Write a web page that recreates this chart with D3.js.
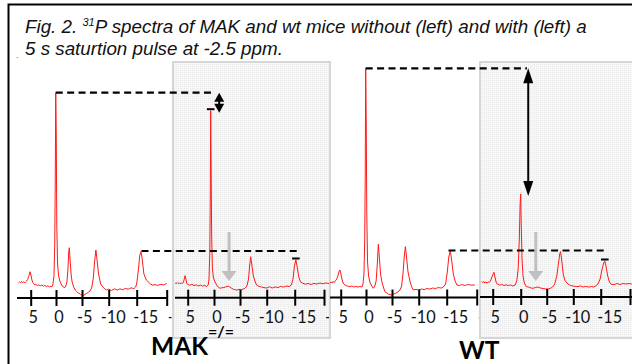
<!DOCTYPE html>
<html>
<head>
<meta charset="utf-8">
<script src="https://cdn.jsdelivr.net/npm/d3@7"></script>
<style>
  html, body { margin: 0; padding: 0; background: #fff; }
  svg { display: block; }
</style>
</head>
<body>
<div id="chart"></div>
<script>
// chemical shift ticks (ppm)
const ppmTicks = [5, 0, -5, -10, -15, -20];

// 31P spectra: [ppm, signal (a.u.)]
const makRest = [
  [7.4, 1], [7.2, 2], [7.0, 1.2], [6.8, 2.6], [6.6, 1.4], [6.4, 2.2], [6.2, 1], [6.0, 2.2], [5.8, 3], [5.6, 4.5],
  [5.4, 7.5], [5.2, 11], [5.1, 12.3], [5.0, 10], [4.8, 5], [4.6, 1.5], [4.4, 0.3], [4.2, -1], [4.0, -0.3], [3.7, -1.6],
  [3.4, -0.8], [3.1, -1.8], [2.8, -1], [2.5, -2.2], [2.2, -1.4], [1.9, -2.6], [1.6, -1.8], [1.3, -3], [1.0, -2.2], [0.8, -2.8],
  [0.6, 0], [0.4, 8], [0.25, 40], [0.15, 100], [0.05, 191.3], [-0.05, 150], [-0.15, 60], [-0.3, 20], [-0.5, 8], [-0.8, 2],
  [-1.1, -1], [-1.4, -3], [-1.7, -3.7], [-1.9, -2], [-2.1, 2], [-2.3, 15], [-2.45, 32], [-2.56, 36.3], [-2.7, 25], [-2.9, 10],
  [-3.1, 2], [-3.4, -3], [-3.7, -6], [-4.0, -7.5], [-4.3, -9.2], [-4.6, -9.6], [-4.9, -11.2], [-5.25, -11.7], [-5.6, -10.2], [-5.9, -9.4],
  [-6.2, -8.2], [-6.5, -7], [-6.8, -4], [-7.1, 5], [-7.35, 22], [-7.6, 34], [-7.8, 25], [-8.1, 10], [-8.5, 0], [-8.9, -3],
  [-9.3, -5], [-9.6, -6], [-10.0, -5.2], [-10.5, -6.5], [-11, -4.8], [-11.5, -6], [-12, -4.9], [-12.5, -5.7], [-13, -4.4], [-13.5, -5.2],
  [-14, -3.8], [-14.5, -4.6], [-14.8, -3], [-15.0, 0], [-15.3, 15], [-15.5, 28], [-15.7, 32.5], [-15.9, 26], [-16.2, 10], [-16.6, 4],
  [-16.9, 2.3], [-17.3, 0], [-17.7, -1.2], [-18.05, -0.6], [-18.5, -1.4], [-19, -0.4], [-19.5, -0.9], [-20, 0.7]
];
const makSat = [
  [7.4, 1], [7.2, 0.5], [7.0, 1.5], [6.8, 0.4], [6.6, 1.2], [6.4, 0], [6.2, 1.1], [6.0, 0.5], [5.8, 2], [5.65, 5],
  [5.5, 8.3], [5.35, 5], [5.2, 1], [5.0, -0.5], [4.6, -1.2], [4.2, -0.3], [3.8, -1.6], [3.4, -0.8], [3.0, -2], [2.6, -1],
  [2.2, -2.1], [1.8, -1.4], [1.4, -2.5], [1.1, -1], [0.95, 5], [0.8, 30], [0.7, 90], [0.63, 173.3], [0.55, 120], [0.45, 50],
  [0.3, 15], [0.1, 6], [-0.2, 2], [-0.5, -1], [-0.8, -3], [-1.15, -4.3], [-1.5, -3.8], [-1.9, -3.5], [-2.3, -2.8], [-2.7, -2.2],
  [-2.94, -2.7], [-3.3, -4], [-3.7, -5.2], [-4.0, -5.5], [-4.37, -6.2], [-4.8, -5.3], [-5.2, -6], [-5.6, -5], [-6.0, -4], [-6.3, -2],
  [-6.6, 5], [-6.8, 18], [-7.0, 27.3], [-7.2, 20], [-7.5, 8], [-7.8, 3], [-8.1, -1], [-8.5, -2.2], [-9, -3], [-9.5, -3.6],
  [-10, -4], [-10.5, -2.8], [-11, -4], [-11.5, -2.9], [-12, -3.6], [-12.5, -2.4], [-13, -3.1], [-13.6, -2], [-14, -2.6], [-14.4, -1],
  [-14.7, 5], [-14.95, 18], [-15.2, 24], [-15.4, 18], [-15.7, 7], [-16.0, 2], [-16.4, 0.7], [-16.8, -0.2], [-17.3, 0.6], [-17.8, -0.5],
  [-18.3, 0.6], [-18.8, -0.1], [-19.3, 1], [-19.8, 0.3], [-20.3, 1], [-20.9, 0.5]
];
const wtRest = [
  [7.1, 1], [6.9, 2], [6.7, 1], [6.5, 2.5], [6.3, 1.5], [6.1, 3], [5.9, 4], [5.7, 6], [5.5, 9], [5.3, 13],
  [5.14, 14], [5.0, 11], [4.8, 6], [4.6, 2], [4.4, 0], [4.0, -1.5], [3.6, -2.2], [3.2, -2.7], [2.8, -1.9], [2.4, -3],
  [2.0, -2.4], [1.6, -3.1], [1.2, -2.5], [0.8, -3], [0.6, 0], [0.4, 10], [0.25, 45], [0.15, 110], [0.06, 215.7], [-0.05, 160],
  [-0.15, 70], [-0.3, 22], [-0.5, 8], [-0.8, 1], [-1.1, -2], [-1.4, -4.3], [-1.7, -2], [-1.95, 3], [-2.15, 18], [-2.37, 39.7],
  [-2.55, 28], [-2.8, 10], [-3.1, 1], [-3.4, -4], [-3.65, -7.7], [-4.0, -9], [-4.3, -10.2], [-4.6, -10.5], [-4.94, -11], [-5.3, -10],
  [-5.7, -9.2], [-6.1, -8], [-6.5, -6], [-6.8, -2], [-7.05, 10], [-7.3, 28], [-7.5, 37.3], [-7.7, 28], [-8.0, 12], [-8.4, 2],
  [-8.7, -3], [-9.0, -6], [-9.5, -5.4], [-10, -6.1], [-10.5, -5], [-11, -5.6], [-11.5, -4.5], [-12, -5.1], [-12.5, -4], [-13, -4.6],
  [-13.5, -3.5], [-14, -4.1], [-14.4, -3], [-14.8, 0], [-15.1, 12], [-15.35, 27], [-15.6, 33], [-15.8, 25], [-16.1, 10], [-16.4, 3],
  [-16.7, -1], [-17.1, -1.6], [-17.5, -0.5], [-18, -1.5], [-18.5, -0.5], [-19, -1.1], [-19.7, -1]
];
const wtSat = [
  [7.0, 2.3], [6.8, 1.5], [6.6, 2.5], [6.4, 1], [6.2, 2], [6.0, 1], [5.8, 2], [5.6, 1.5], [5.4, 3], [5.2, 6],
  [5.0, 9], [4.77, 11.7], [4.6, 7], [4.4, 2], [4.2, 0], [3.8, -1.1], [3.4, -0.4], [3.0, -1.5], [2.6, -0.8], [2.2, -1.6],
  [1.8, -0.9], [1.4, -2], [1.0, -1], [0.7, 3], [0.45, 15], [0.25, 45], [0.1, 80], [0.0, 90], [-0.1, 60], [-0.25, 25],
  [-0.45, 8], [-0.7, 1], [-1.08, -2.7], [-1.5, -3], [-2.0, -4], [-2.37, -4.3], [-2.8, -3.5], [-3.33, -3], [-3.8, -4], [-4.3, -4.6],
  [-4.8, -4.9], [-5.24, -5], [-5.7, -4.4], [-6.1, -3], [-6.5, 0], [-6.9, 8], [-7.2, 20], [-7.45, 30], [-7.6, 32.5], [-7.8, 25],
  [-8.1, 10], [-8.4, 4], [-8.6, 2.3], [-9, 0], [-9.5, -1.5], [-10.0, -2.1], [-10.5, -2.5], [-10.86, -2.7], [-11.3, -1.9], [-11.8, -3],
  [-12.3, -2.4], [-12.8, -3.1], [-13.3, -2.5], [-13.7, -3], [-14.1, -2], [-14.5, 0], [-14.9, 5], [-15.2, 14], [-15.5, 21], [-15.7, 23],
  [-15.9, 18], [-16.2, 8], [-16.5, 2], [-16.8, -0.3], [-17.3, -0.6], [-17.8, 0.5], [-18.3, -0.5], [-18.8, 0.5], [-19.3, 0], [-19.8, 0.5],
  [-20.3, 0]
];

const groupNames = ['MAK', 'WT'];
const groupSup = ['=/=', ''];
const titleLine1 = ['Fig. 2. ', '31', 'P spectra of MAK and wt mice without (left) and with (left) a'];
const titleLine2 = '5 s saturtion pulse at -2.5 ppm.';

const width = 632;
const height = 364;

// panel layout (pixel ranges of the ppm ticks in each sub-spectrum)
const panels = [
  { data: makRest, range: [30.7, 56, 82, 108.7, 136.7, 166.7], axisY: 298, axisL: 17, axisR: 166.7, clipR: 171.5, box: null },
  { data: makSat, range: [187.7, 214, 240, 266.7, 294.7, 324], axisY: 297.7, axisL: 175, axisR: 324, clipR: 329, box: [173, 330] },
  { data: wtRest, range: [340.7, 366, 392, 418.7, 446.7, 476.7], axisY: 297.5, axisL: 330, axisR: 476.7, clipR: 480, box: null },
  { data: wtSat, range: [492.7, 520.7, 546.7, 573.3, 600.7, 630], axisY: 297, axisL: 480, axisR: 632, clipR: 640, box: [480, 642] },
];
const labelShift = [2, 2.5, 2.3, 4, 8.5, 13];

const svg = d3.select('#chart').append('svg')
  .attr('width', width)
  .attr('height', height)
  .attr('viewBox', [0, 0, width, height])
  .attr('xmlns', 'http://www.w3.org/2000/svg');

const defs = svg.append('defs');
const pattern = defs.append('pattern')
  .attr('id', 'dots')
  .attr('width', 2)
  .attr('height', 2)
  .attr('patternUnits', 'userSpaceOnUse');
pattern.append('rect').attr('width', 2).attr('height', 2).attr('fill', '#f7f7f7');
pattern.append('rect').attr('width', 1).attr('height', 1).attr('fill', '#eaeaea');

const y = d3.scaleLinear().domain([0, 220]).range([284, 64]);

// frame
svg.append('path')
  .attr('d', 'M8.5,364V4.5H632')
  .attr('fill', 'none')
  .attr('stroke', '#000')
  .attr('stroke-width', 2);

// title
const title = svg.append('g')
  .attr('font-family', '"Liberation Sans", Arial, sans-serif')
  .attr('font-style', 'italic')
  .attr('font-size', 18.8)
  .attr('fill', '#111');
const t1 = title.append('text').attr('x', 25).attr('y', 33);
t1.append('tspan').text(titleLine1[0]);
t1.append('tspan').attr('font-size', 11).attr('dy', -7.5).text(titleLine1[1]);
t1.append('tspan').attr('dy', 7.5).text(titleLine1[2]);
title.append('text').attr('x', 25).attr('y', 55).text(titleLine2);
title.append('text').attr('x', 16).attr('y', 58).attr('font-size', 9).attr('font-style', 'normal').attr('fill', '#666').text('.');

panels.forEach((p, i) => {
  const x = d3.scaleLinear().domain(ppmTicks).range(p.range);
  p.x = x;
  const g = svg.append('g');

  if (p.box) {
    g.append('rect')
      .attr('x', p.box[0])
      .attr('y', 62)
      .attr('width', p.box[1] - p.box[0])
      .attr('height', 276)
      .attr('fill', 'url(#dots)')
      .attr('stroke', '#d6d6d6')
      .attr('stroke-width', 2);
  }

  g.append('path')
    .datum(p.data)
    .attr('d', d3.line().x(d => x(d[0])).y(d => y(d[1])))
    .attr('fill', 'none')
    .attr('stroke', '#ff1a1a')
    .attr('stroke-width', 1);

  defs.append('clipPath')
    .attr('id', `clip${i}`)
    .append('rect')
    .attr('x', 0)
    .attr('y', 270)
    .attr('width', p.clipR)
    .attr('height', 70);

  g.append('line')
    .attr('x1', p.axisL)
    .attr('x2', p.axisR)
    .attr('y1', p.axisY)
    .attr('y2', p.axisY)
    .attr('stroke', '#000')
    .attr('stroke-width', 2);

  const axis = d3.axisBottom(x)
    .tickValues(ppmTicks)
    .tickSize(8)
    .tickFormat(d => String(d));

  // the -20 label is hidden under the next panel, as in the figure
  g.append('g')
    .attr('clip-path', `url(#clip${i})`)
    .append('g')
    .attr('transform', `translate(0,${p.axisY})`)
    .call(axis)
    .call(a => a.select('.domain').remove())
    .call(a => a.selectAll('.tick line')
      .attr('y1', -8)
      .attr('y2', 8)
      .attr('stroke', '#000')
      .attr('stroke-width', 2))
    .call(a => a.selectAll('.tick text')
      .attr('y', 323 - p.axisY)
      .attr('dy', 0)
      .attr('dx', (d, k) => labelShift[k])
      .attr('fill', '#111')
      .attr('font-family', 'Lato, "Open Sans", sans-serif')
      .attr('font-size', 16.3));
});

// annotations: PCr / beta-ATP reference levels, saturation arrows
const annotations = [
  { rest: 0, sat: 1, pcrEnd: 0, arrowPpm: -1.0, grayPpm: -2.9, betaStart: -15.8, betaEnd: -16.0, pcrMark: true },
  { rest: 2, sat: 3, pcrEnd: -1.2, arrowPpm: -1.45, grayPpm: -2.9, betaStart: -15.3, betaEnd: -16.1, pcrMark: false },
];

const ann = svg.append('g');

function arrowHead(xc, tipY, dir, w, h, fill) {
  ann.append('path')
    .attr('d', `M${xc - w / 2},${tipY - dir * h}L${xc + w / 2},${tipY - dir * h}L${xc},${tipY}Z`)
    .attr('fill', fill);
}

annotations.forEach(a => {
  const pr = panels[a.rest];
  const ps = panels[a.sat];
  const pcrRest = d3.greatest(pr.data, d => d[1]);
  const pcrSat = d3.greatest(ps.data, d => d[1]);
  const betaRest = d3.greatest(pr.data.filter(d => d[0] < -14), d => d[1]);
  const betaSat = d3.greatest(ps.data.filter(d => d[0] < -14), d => d[1]);

  const dashed = (x1, x2, yy) => ann.append('line')
    .attr('x1', x1).attr('x2', x2).attr('y1', yy).attr('y2', yy)
    .attr('stroke', '#000')
    .attr('stroke-width', 2.2)
    .attr('stroke-dasharray', '7,4.4');

  dashed(pr.x(pcrRest[0]), ps.x(a.pcrEnd), y(pcrRest[1]));
  dashed(pr.x(a.betaStart), ps.x(a.betaEnd), y(betaRest[1]) - 0.5);

  const mark = (d) => ann.append('line')
    .attr('x1', ps.x(d[0]) - 3.8).attr('x2', ps.x(d[0]) + 3.8)
    .attr('y1', y(d[1]) - 1.5).attr('y2', y(d[1]) - 1.5)
    .attr('stroke', '#000')
    .attr('stroke-width', 2);
  if (a.pcrMark) mark(pcrSat);
  mark(betaSat);

  // black double arrow: PCr drop on saturation
  const ax = ps.x(a.arrowPpm);
  const yTop = y(pcrRest[1]);
  const yBot = y(pcrSat[1]) + 2;
  const headH = Math.min(15, (yBot - yTop) / 2 - 1);
  ann.append('line')
    .attr('x1', ax).attr('x2', ax)
    .attr('y1', yTop + headH - 1).attr('y2', yBot - headH + 1)
    .attr('stroke', '#000')
    .attr('stroke-width', 2);
  arrowHead(ax, yTop, -1, 10, headH, '#000');
  arrowHead(ax, yBot, 1, 10, headH, '#000');

  // gray arrow: saturation frequency
  const gx = ps.x(a.grayPpm);
  ann.append('line')
    .attr('x1', gx).attr('x2', gx)
    .attr('y1', y(52)).attr('y2', y(3) - 9)
    .attr('stroke', '#c0c0c0')
    .attr('stroke-width', 3);
  arrowHead(gx, y(3), 1, 15, 10, '#c0c0c0');
});

// group labels
const labels = svg.append('g')
  .attr('font-family', 'Lato, "Open Sans", sans-serif')
  .attr('font-weight', 700)
  .attr('fill', '#000');
const mak = labels.append('text').attr('x', 151).attr('y', 355).attr('font-size', 24.5);
mak.append('tspan').text(groupNames[0]);
mak.append('tspan').attr('font-size', 16).attr('dy', -18).text(groupSup[0]);
labels.append('text').attr('x', 459).attr('y', 358.5).attr('font-size', 24.5).text(groupNames[1]);
</script>
</body>
</html>
